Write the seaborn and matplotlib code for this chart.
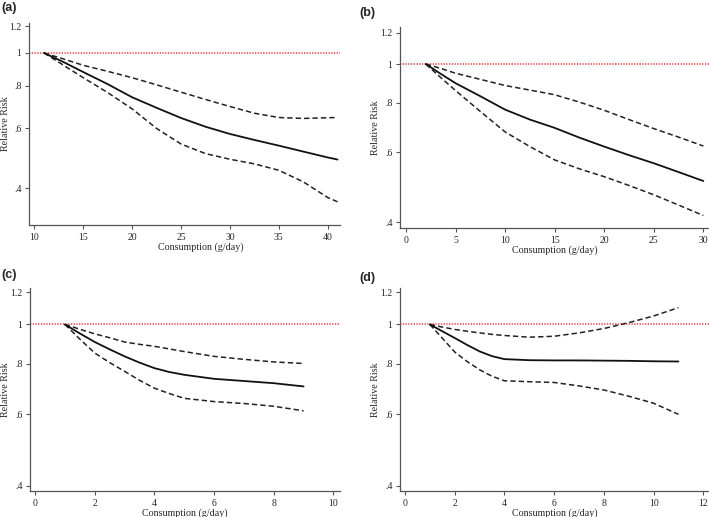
import matplotlib
matplotlib.use("Agg")
import matplotlib.pyplot as plt
import seaborn as sns
import pandas as pd
import numpy as np

# ---------------- data ----------------
a_x = [11, 13, 15, 17.5, 20, 22.5, 25, 27.5, 30, 32.5, 35, 37.5, 40, 41]
a_rr = [1, 0.94, 0.879, 0.81, 0.741, 0.69, 0.644, 0.607, 0.578, 0.555, 0.534, 0.513, 0.493, 0.486]
a_hi = [1, 0.96, 0.92, 0.883, 0.846, 0.806, 0.767, 0.73, 0.696, 0.665, 0.646, 0.642, 0.645, 0.646]
a_lo = [1, 0.92, 0.846, 0.765, 0.685, 0.6, 0.54, 0.506, 0.487, 0.472, 0.452, 0.418, 0.376, 0.365]

b_x = [2, 3.5, 5, 7.5, 10, 12.5, 15, 17.5, 20, 22.5, 25, 27.5, 30]
b_rr = [1, 0.945, 0.895, 0.83, 0.768, 0.725, 0.691, 0.653, 0.62, 0.59, 0.563, 0.535, 0.508]
b_hi = [1, 0.975, 0.948, 0.915, 0.883, 0.86, 0.837, 0.802, 0.765, 0.725, 0.688, 0.655, 0.622]
b_lo = [1, 0.925, 0.858, 0.76, 0.675, 0.62, 0.574, 0.545, 0.521, 0.495, 0.469, 0.442, 0.416]

c_x = [1, 1.5, 2, 2.5, 3, 3.5, 4, 4.5, 5, 6, 7, 8, 9]
c_rr = [1, 0.95, 0.905, 0.868, 0.834, 0.805, 0.78, 0.763, 0.751, 0.734, 0.725, 0.716, 0.703]
c_hi = [1, 0.973, 0.948, 0.927, 0.905, 0.893, 0.883, 0.87, 0.857, 0.834, 0.82, 0.808, 0.801]
c_lo = [1, 0.92, 0.85, 0.805, 0.766, 0.728, 0.696, 0.675, 0.657, 0.645, 0.638, 0.628, 0.612]

d_x = [1, 1.5, 2, 2.5, 3, 3.5, 4, 5, 6, 7, 8, 9, 10, 11]
d_rr = [1, 0.962, 0.926, 0.89, 0.858, 0.835, 0.821, 0.816, 0.815, 0.815, 0.814, 0.813, 0.811, 0.81]
d_hi = [1, 0.985, 0.972, 0.962, 0.953, 0.945, 0.939, 0.93, 0.935, 0.953, 0.977, 1.01, 1.049, 1.10]
d_lo = [1, 0.925, 0.855, 0.81, 0.773, 0.745, 0.726, 0.722, 0.719, 0.705, 0.689, 0.665, 0.639, 0.6]

panel_labels = ["(a)", "(b)", "(c)", "(d)"]
y_ticks = [0.4, 0.6, 0.8, 1, 1.2]
y_ticklabels = [".4", ".6", ".8", "1", "1.2"]
a_xticks = [10, 15, 20, 25, 30, 35, 40]
b_xticks = [0, 5, 10, 15, 20, 25, 30]
c_xticks = [0, 2, 4, 6, 8, 10]
d_xticks = [0, 2, 4, 6, 8, 10, 12]
x_label = "Consumption (g/day)"
y_label = "Relative Risk"

# ---------------- style ----------------
sns.set_style("white")
plt.rcParams["font.family"] = ["Liberation Serif", "DejaVu Serif"]

W, H = 709, 517
fig = plt.figure(figsize=(W / 100, H / 100), dpi=100)

def frac(l, r, t, b):
    return [l / W, 1 - b / H, (r - l) / W, (b - t) / H]

panels = [
    dict(box=(29, 340, 23, 225), x=a_x, rr=a_rr, hi=a_hi, lo=a_lo, xt=a_xticks,
         xlim=(9.46, 41.26), ylim=(0.312, 1.225), lab_xy=(1, 8), xlab_x=201),
    dict(box=(400, 709, 27, 228), x=b_x, rr=b_rr, hi=b_hi, lo=b_lo, xt=b_xticks,
         xlim=(-0.6, 30.57), ylim=(0.387, 1.239), lab_xy=(359, 13), xlab_x=555),
    dict(box=(30, 340, 288, 491), x=c_x, rr=c_rr, hi=c_hi, lo=c_lo, xt=c_xticks,
         xlim=(-0.17, 10.22), ylim=(0.388, 1.23), lab_xy=(1, 275), xlab_x=185),
    dict(box=(400, 709, 288, 491), x=d_x, rr=d_rr, hi=d_hi, lo=d_lo, xt=d_xticks,
         xlim=(-0.2, 12.23), ylim=(0.388, 1.23), lab_xy=(359, 278), xlab_x=555),
]

spine_col = "#555555"
txt_col = "#262626"
for p, lab in zip(panels, panel_labels):
    l, r, t, b = p["box"]
    ax = fig.add_axes(frac(l, r, t, b))
    ax.set_yscale("log")
    ax.set_xlim(*p["xlim"])
    ax.set_ylim(*p["ylim"])
    ax.axhline(1.0, color="#e66a6e", lw=1.4, ls=(0, (0.7, 0.7)), zorder=1)
    df = pd.DataFrame({"x": p["x"], "rr": p["rr"], "hi": p["hi"], "lo": p["lo"]})
    sns.lineplot(data=df, x="x", y="hi", ax=ax, color="#222222", lw=1.1,
                 linestyle=(0, (3.5, 2)), zorder=3)
    sns.lineplot(data=df, x="x", y="lo", ax=ax, color="#222222", lw=1.1,
                 linestyle=(0, (3.5, 2)), zorder=3)
    sns.lineplot(data=df, x="x", y="rr", ax=ax, color="#111111", lw=1.3, zorder=4)
    ax.set_yticks(y_ticks)
    ax.set_yticklabels(y_ticklabels)
    ax.yaxis.set_minor_locator(matplotlib.ticker.NullLocator())
    ax.set_xticks(p["xt"])
    ax.set_xticklabels([str(v) for v in p["xt"]])
    for s in ["top", "right"]:
        ax.spines[s].set_visible(False)
    for s in ["left", "bottom"]:
        ax.spines[s].set_color(spine_col)
        ax.spines[s].set_linewidth(0.9)
    ax.tick_params(axis="both", which="major", direction="out", length=3, width=0.8,
                   color=spine_col, labelsize=7, labelcolor=txt_col, pad=2.5,
                   left=True, bottom=True)
    ax.set_xlabel(x_label, fontsize=7.2, color=txt_col)
    ax.set_ylabel(y_label, fontsize=7.2, color=txt_col)
    ax.xaxis.set_label_coords((p["xlab_x"] - l) / (r - l), -22 / (b - t))
    ax.yaxis.set_label_coords(-(l - 6 if l < 100 else 25) / (r - l), 0.5)
    ax.xaxis.label.set_va("center")
    ax.yaxis.label.set_va("center")
    ax.patch.set_alpha(0)
    fig.text(p["lab_xy"][0] / W, 1 - p["lab_xy"][1] / H, lab, ha="left", va="center",
             fontsize=9, fontweight="bold", family=["Liberation Sans", "DejaVu Sans"])

fig.savefig("out.png", dpi=100, facecolor="white")
